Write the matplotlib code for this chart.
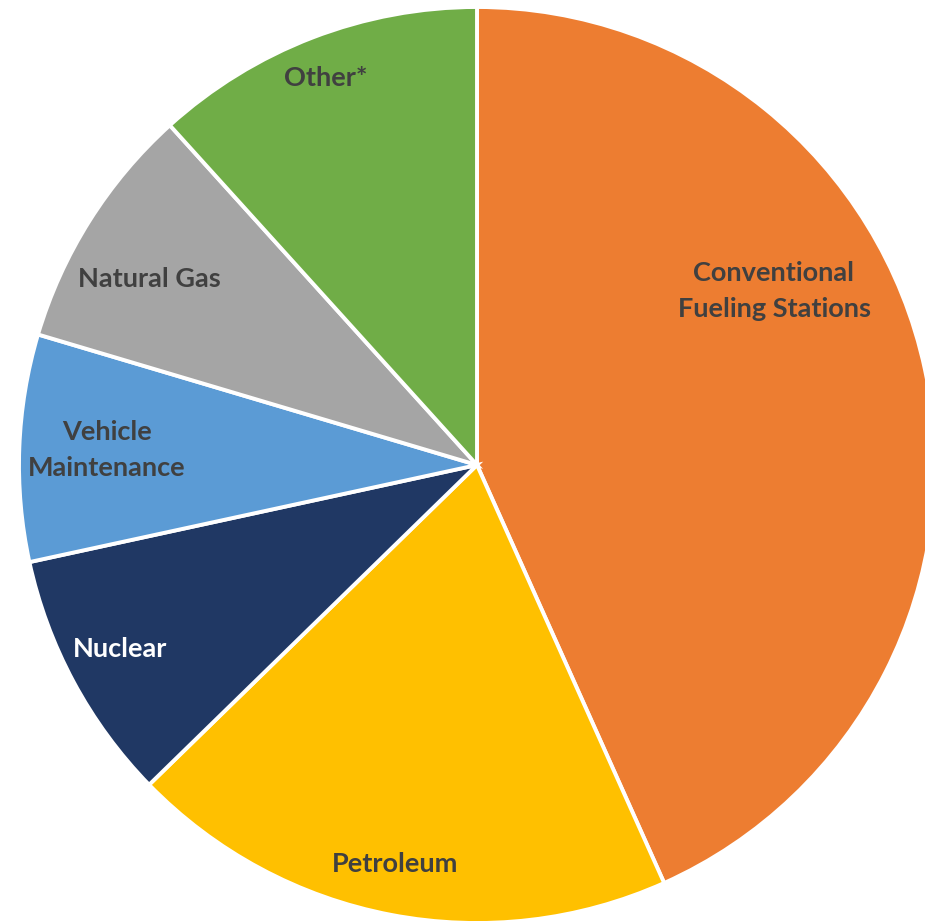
import matplotlib.pyplot as plt

# slice shares (percent), clockwise from 12 o'clock
labels = ["Conventional\nFueling Stations", "Petroleum", "Nuclear",
          "Vehicle\nMaintenance", "Natural Gas", "Other*"]
shares = [43.3, 19.4, 8.9, 8.0, 8.7, 11.7]
colors = ["#ED7D31", "#FFC000", "#203864", "#5B9BD5", "#A5A5A5", "#70AD47"]
text_colors = ["#404040", "#404040", "#FFFFFF", "#404040", "#404040", "#404040"]

# label anchor points in pixel coords (x, y from top)
label_pos = [(774, 291), (395, 864), (120, 649), (107, 450), (149, 279), (326, 78)]

W, H = 925, 924
fig = plt.figure(figsize=(W / 100, H / 100), dpi=100)
ax = fig.add_axes([0, 0, 1, 1])

ax.pie(shares, colors=colors, startangle=90, counterclock=False,
       center=(477, H - 465), radius=458,
       wedgeprops=dict(edgecolor="white", linewidth=2.8))

for lab, (x, y), c in zip(labels, label_pos, text_colors):
    ax.text(x, H - y, lab, ha="center", va="center", color=c,
            fontsize=19.5, fontweight="bold", family="Lato", linespacing=1.6)

ax.set_xlim(0, W)
ax.set_ylim(0, H)
ax.set_aspect("equal")
ax.set_axis_off()

fig.savefig("out.png", dpi=100)
